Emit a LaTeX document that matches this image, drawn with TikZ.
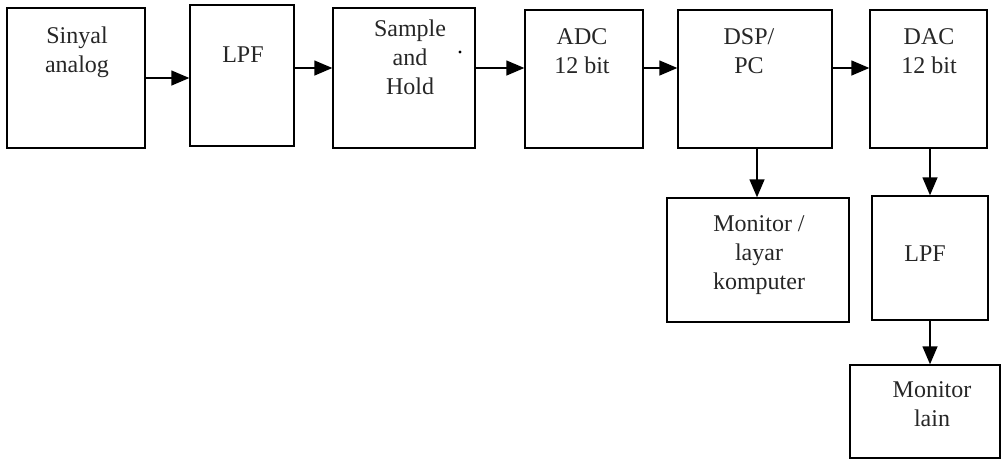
\documentclass[tikz,border=0pt]{standalone}
\usepackage{fontspec}
\setmainfont{Liberation Serif}
\usetikzlibrary{positioning}
\usetikzlibrary{arrows.meta}

\tikzset{
  blok/.style={rectangle,draw,line width=0.7pt,inner sep=0pt},
  tulisan/.style={align=center,anchor=north,inner sep=0pt,text=black!85,font=\fontsize{12}{14.5}\selectfont},
  panah/.style={-{Triangle[length=9pt,width=7.5pt]},line width=0.7pt}
}

\begin{document}
\begin{tikzpicture}[x=0.5pt,y=-0.5pt]

\useasboundingbox (0,0) rectangle (1004,461);

\node[blok, minimum width=69pt, minimum height=70pt] (sinyal) at (76,78) {};
\node[tulisan] (sinyalT) at (77,26) {Sinyal\\analog};

\node[blok, minimum width=52pt, minimum height=70.5pt] (lpfa) at (242,75.5) {};
\node[tulisan] (lpfaT) at (243,46) {LPF};

\node[blok, minimum width=71pt, minimum height=70pt] (sh) at (404,78) {};
\node[tulisan] (shT) at (410,19) {Sample\\and\\Hold};
\fill (460,52) circle (1.6);

\node[blok, minimum width=59pt, minimum height=69pt] (adc) at (584,79) {};
\node[tulisan] (adcT) at (582,28) {ADC\\12 bit};

\node[blok, minimum width=77pt, minimum height=69pt] (dsp) at (755,79) {};
\node[tulisan] (dspT) at (749,28) {DSP/\\PC};

\node[blok, minimum width=58.5pt, minimum height=69pt] (dac) at (928.5,79) {};
\node[tulisan] (dacT) at (929,28) {DAC\\12 bit};


% keluaran

\node[blok, minimum width=91pt, minimum height=62pt] (monitor) at (758,260) {};
\node[tulisan] (monitorT) at (759,215) {Monitor /\\layar\\komputer};

\node[blok, minimum width=58pt, minimum height=62pt] (lpfb) at (930,258) {};
\node[tulisan] (lpfbT) at (925,245) {LPF};

\node[blok, minimum width=75pt, minimum height=46.5pt] (lain) at (925,411.5) {};
\node[tulisan] (lainT) at (932,381) {Monitor\\lain};


\draw[panah] (sinyal.east) -- (sinyal.east -| lpfa.west);
\draw[panah] ([yshift=3.75pt]lpfa.east) -- ([yshift=3.75pt]lpfa.east -| sh.west);
\draw[panah] ([yshift=5pt]sh.east) -- ([yshift=5pt]sh.east -| adc.west);
\draw[panah] ([yshift=5.5pt]adc.east) -- ([yshift=5.5pt]adc.east -| dsp.west);
\draw[panah] ([yshift=5.5pt]dsp.east) -- ([yshift=5.5pt]dsp.east -| dac.west);

\draw[panah] ([xshift=1pt]dsp.south) -- ([xshift=1pt]dsp.south |- monitor.north);
\draw[panah] ([xshift=0.75pt]dac.south) -- ([xshift=0.75pt]dac.south |- lpfb.north);
\draw[panah] (lpfb.south) -- (lpfb.south |- lain.north);

\end{tikzpicture}
\end{document}
